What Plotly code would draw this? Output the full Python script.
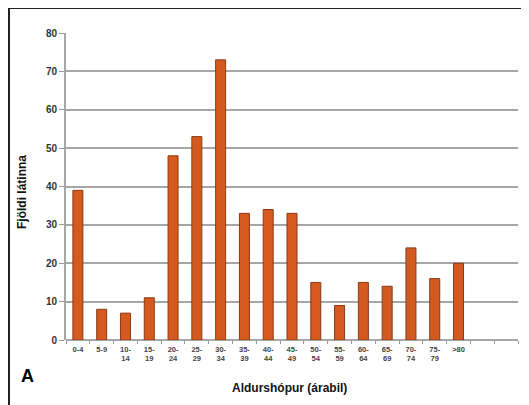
import plotly.graph_objects as go

categories = ["0-4", "5-9", "10-<br>14", "15-<br>19", "20-<br>24", "25-<br>29", "30-<br>34",
              "35-<br>39", "40-<br>44", "45-<br>49", "50-<br>54", "55-<br>59", "60-<br>64",
              "65-<br>69", "70-<br>74", "75-<br>79", ">80"]
empty_slots = [" ", "  "]
values = [39, 8, 7, 11, 48, 53, 73, 33, 34, 33, 15, 9, 15, 14, 24, 16, 20]
y_ticks = [0, 10, 20, 30, 40, 50, 60, 70, 80]

# page coordinates (the page body adds an 8px offset)
OFF = 8
PW, PH = 529, 405
PL, PR, PT, PB = 66, 518, 33, 340  # plot area in page px
W, H = PW - OFF, PH - OFF
L, T = PL - OFF, PT - OFF
R, B = PW - PR, PH - PB
pw, ph = PR - PL, PB - PT

def px(x):
    return (x - PL) / pw

def py(y):
    return (PB - y) / ph

fig = go.Figure()
fig.add_trace(go.Bar(
    x=categories, y=values, width=0.42,
    marker=dict(color="#D45A20", line=dict(color="#8a3a14", width=1)),
))

fig.update_layout(
    width=W, height=H, margin=dict(l=L, r=R, t=T, b=B, pad=0),
    paper_bgcolor="white", plot_bgcolor="white", showlegend=False,
    xaxis=dict(
        type="category", categoryorder="array", categoryarray=categories + empty_slots,
        range=[-0.5, len(categories) + len(empty_slots) - 0.5],
        tickson="boundaries", ticks="outside", ticklen=3, tickcolor="#999", tickwidth=1,
        showgrid=False, showline=False, zeroline=False,
        tickfont=dict(family="Liberation Sans", size=7.5, color="#444", weight="bold"),
        tickangle=0, ticklabelstandoff=3,
    ),
    yaxis=dict(
        range=[0, 80], tickvals=y_ticks, ticks="outside", ticklen=5, tickcolor="#999",
        showgrid=True, gridcolor="#a6a6a6", gridwidth=2,
        showline=True, linecolor="#a6a6a6", linewidth=2,
        zeroline=True, zerolinecolor="#a6a6a6", zerolinewidth=2,
        tickfont=dict(family="Liberation Sans", size=10, color="#333", weight="bold"),
    ),
    annotations=[
        dict(text="<b>Aldurshópur (árabil)</b>", xref="paper", yref="paper",
             x=px(289), y=py(388), showarrow=False, xanchor="center", yanchor="middle",
             font=dict(family="Liberation Sans", size=12, color="#111")),
        dict(text="<b>Fjöldi látinna</b>", xref="paper", yref="paper",
             x=px(22), y=py(192), showarrow=False, xanchor="center", yanchor="middle",
             textangle=-90, font=dict(family="Liberation Sans", size=12, color="#111")),
        dict(text="<b>A</b>", xref="paper", yref="paper",
             x=px(27), y=py(376), showarrow=False, xanchor="center", yanchor="middle",
             font=dict(family="Liberation Sans", size=18, color="#000")),
    ],
    shapes=[
        dict(type="line", xref="paper", yref="paper", x0=px(9), x1=px(9),
             y0=py(8), y1=py(405), line=dict(color="#222", width=2)),
        dict(type="line", xref="paper", yref="paper", x0=px(9), x1=px(529),
             y0=py(8), y1=py(8), line=dict(color="#222", width=2)),
    ],
)

fig.write_html("out.html")
